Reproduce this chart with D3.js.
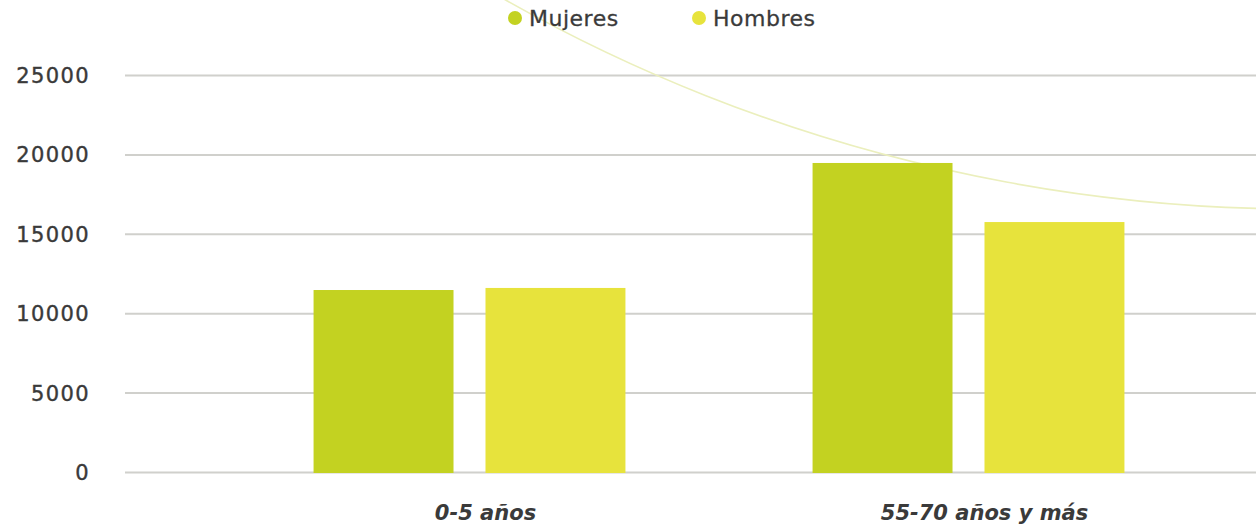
<!DOCTYPE html>
<html>
<head>
<meta charset="utf-8">
<script src="https://cdn.jsdelivr.net/npm/d3@7"></script>
<style>
  body { margin: 0; background: #fff; }
  svg { display: block; }
</style>
</head>
<body>
<div id="content"></div>
<script>
(function(){

      // data
      var categories = ["0-5 años", "55-70 años y más"];
      var seriesNames = ["Mujeres", "Hombres"];
      var mujeres = [11460, 19460];
      var hombres = [11590, 15740];
      var yTicks = [0, 5000, 10000, 15000, 20000, 25000];

      var colors = {"Mujeres": "#c3d221", "Hombres": "#e7e33c"};

      var width = 1256,
          height = 526;

      var svg = d3.select("#content")
          .append("svg")
          .attr("width", width)
          .attr("height", height);

      var y = d3.scaleLinear()
          .domain([0, 25000])
          .range([472, 75]);

      // outer band per age group, inner band per sex
      var x0 = d3.scaleBand()
          .domain(categories)
          .range([220, 1218])
          .paddingInner(0.375)
          .paddingOuter(0.1875);

      var x1 = d3.scaleBand()
          .domain(seriesNames)
          .range([0, x0.bandwidth()])
          .paddingInner(32 / 172);

      // grid + y labels
      var yAxis = svg.append("g")
          .attr("transform", "translate(125,0)")
          .call(d3.axisLeft(y)
            .tickValues(yTicks)
            .tickFormat(d3.format("d"))
            .tickSize(-(width - 125))
            .tickPadding(35));

      yAxis.select(".domain").remove();
      yAxis.selectAll(".tick line")
          .style("stroke", "#d0d0cc")
          .style("stroke-width", "2px");
      yAxis.selectAll(".tick text")
          .style("font-family", "DejaVu Sans, sans-serif")
          .style("font-size", "21px")
          .style("letter-spacing", "1.4px")
          .style("stroke", "#3a3a3a")
          .style("stroke-width", "0.4px")
          .style("fill", "#3a3a3a")
          .attr("dy", "0.36em");

      // decorative thin arc behind the bars
      svg.append("circle")
          .attr("cx", 1300)
          .attr("cy", -1405)
          .attr("r", 1614)
          .style("fill", "none")
          .style("stroke", "#ebefbd")
          .style("stroke-width", "1.6px");

      var rows = categories.map(function(c, i){
        return {cat: c, values: [
          {name: "Mujeres", value: mujeres[i]},
          {name: "Hombres", value: hombres[i]}
        ]};
      });

      var groups = svg.selectAll(".group")
          .data(rows)
        .enter().append("g")
          .attr("class", "group")
          .attr("transform", function(d){ return "translate(" + x0(d.cat) + ",0)"; });

      groups.selectAll("rect")
          .data(function(d){ return d.values; })
        .enter().append("rect")
          .attr("x", function(d){ return x1(d.name); })
          .attr("y", function(d){ return y(d.value); })
          .attr("width", x1.bandwidth())
          .attr("height", function(d){ return y(0) - y(d.value) + 1; })
          .style("fill", function(d){ return colors[d.name]; });

      // x labels
      svg.selectAll(".xlabel")
          .data(categories)
        .enter().append("text")
          .attr("class", "xlabel")
          .attr("x", function(d){ return x0(d) + x0.bandwidth() / 2 + 16; })
          .attr("y", 520)
          .attr("text-anchor", "middle")
          .style("font-family", "DejaVu Sans, sans-serif")
          .style("font-size", "21px")
          .style("font-weight", "bold")
          .style("font-style", "italic")
          .style("fill", "#3a3a3a")
          .text(function(d){ return d; });

      // legend
      var legendX = [515, 699];
      var legend = svg.selectAll(".legend")
          .data(seriesNames)
        .enter().append("g")
          .attr("class", "legend")
          .attr("transform", function(d, i){ return "translate(" + legendX[i] + ",18)"; });

      legend.append("circle")
          .attr("r", 7)
          .style("fill", function(d){ return colors[d]; });

      legend.append("text")
          .attr("x", 14)
          .attr("dy", "0.36em")
          .style("font-family", "DejaVu Sans, sans-serif")
          .style("font-size", "22px")
          .style("letter-spacing", "0.5px")
          .style("stroke", "#3a3a3a")
          .style("stroke-width", "0.3px")
          .style("fill", "#3a3a3a")
          .text(function(d){ return d; });

})();
</script>
</body>
</html>
